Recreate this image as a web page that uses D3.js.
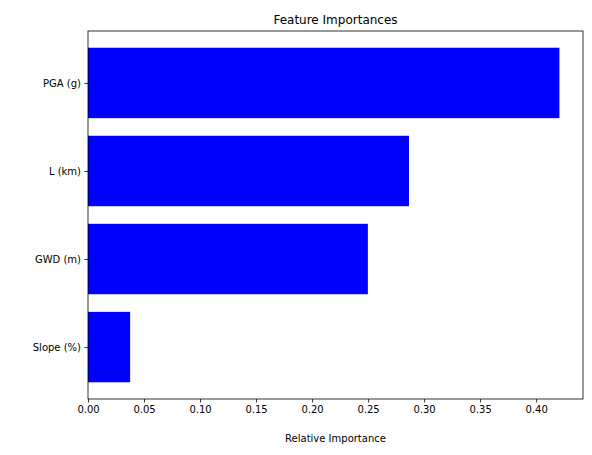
<!DOCTYPE html>
<html><head><meta charset="utf-8">
<script src="https://cdn.jsdelivr.net/npm/d3@7"></script>
<style>body{margin:0;background:#fff}text{font-family:"DejaVu Sans",sans-serif}</style>
</head><body><svg id="c" width="592" height="455"></svg>
<script>
const features = ["Slope (%)", "GWD (m)", "L (km)", "PGA (g)"];
const importances = [0.0376, 0.2498, 0.2865, 0.4208];
const xTicks = [0,0.05,0.10,0.15,0.20,0.25,0.30,0.35,0.40];

const svg = d3.select("#c");
const L=88,R=583,T=31,B=399;
const x = d3.scaleLinear().domain([0, d3.max(importances)*1.05]).range([L,R]);
const y = d3.scaleLinear().domain([-0.59, 3.59]).range([B,T]);

svg.selectAll("rect.bar").data(importances).join("rect")
  .attr("x", x(0)).attr("width", d=>x(d)-x(0))
  .attr("y", (d,i)=>y(i+0.4)).attr("height", (d,i)=>y(i-0.4)-y(i+0.4))
  .attr("fill","#0000ff");

svg.append("rect").attr("x",L).attr("y",T).attr("width",R-L).attr("height",B-T)
  .attr("fill","none").attr("stroke","#000").attr("stroke-width",0.8);

const xa = svg.append("g").attr("transform",`translate(0,${B})`)
  .call(d3.axisBottom(x).tickValues(xTicks).tickFormat(d3.format(".2f")).tickSize(3.5).tickPadding(3.5));
const ya = svg.append("g").attr("transform",`translate(${L},0)`)
  .call(d3.axisLeft(y).tickValues([0,1,2,3]).tickFormat(i=>features[i]).tickSize(3.5).tickPadding(3.5));
[xa,ya].forEach(a=>{a.select(".domain").remove();a.selectAll("text").attr("font-size",10).attr("fill","#000");a.selectAll("line").attr("stroke","#000").attr("stroke-width",0.8);});

svg.append("text").attr("x",(L+R)/2).attr("y",24).attr("text-anchor","middle").attr("font-size",12).text("Feature Importances");
svg.append("text").attr("x",(L+R)/2).attr("y",442).attr("text-anchor","middle").attr("font-size",10).text("Relative Importance");
</script></body></html>
